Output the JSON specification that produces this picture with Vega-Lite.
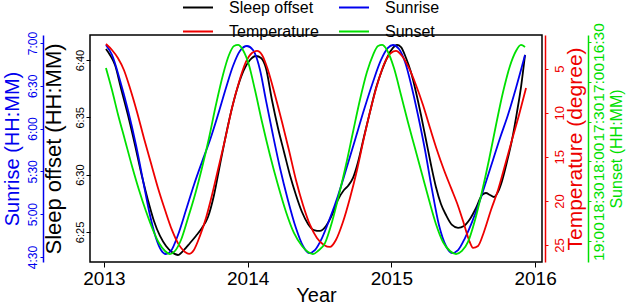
{
  "$schema": "https://vega.github.io/schema/vega-lite/v6.json",
  "autosize": {"type": "none"},
  "padding": {"left": 90, "top": 35, "right": 89, "bottom": 46},
  "width": 452,
  "height": 227,
  "background": "white",
  "config": {
    "font": "Liberation Sans",
    "view": {"stroke": "black", "strokeWidth": 1.5},
    "axis": {"grid": false, "labelFont": "Liberation Sans", "titleFont": "Liberation Sans", "titleFontWeight": "normal", "labelOverlap": false, "labelFlush": false, "tickSize": 4}
  },
  "datasets": {
    "sleep": [
      {"t":2013.014,"v":400.96},{"t":2013.042,"v":400.44},{"t":2013.077,"v":399.56},{"t":2013.118,"v":397.56},
      {"t":2013.167,"v":395.20},{"t":2013.216,"v":392.59},{"t":2013.264,"v":389.88},{"t":2013.306,"v":387.79},
      {"t":2013.348,"v":385.96},{"t":2013.390,"v":384.65},{"t":2013.432,"v":383.78},{"t":2013.473,"v":383.25},
      {"t":2013.515,"v":382.99},{"t":2013.557,"v":383.43},{"t":2013.599,"v":384.04},{"t":2013.640,"v":384.65},
      {"t":2013.682,"v":385.35},{"t":2013.724,"v":386.31},{"t":2013.766,"v":388.23},{"t":2013.807,"v":390.84},
      {"t":2013.849,"v":393.46},{"t":2013.891,"v":395.81},{"t":2013.933,"v":397.73},{"t":2013.974,"v":399.13},
      {"t":2014.016,"v":400.00},{"t":2014.058,"v":400.35},{"t":2014.093,"v":400.17},{"t":2014.127,"v":399.30},
      {"t":2014.169,"v":396.51},{"t":2014.211,"v":394.07},{"t":2014.253,"v":391.98},{"t":2014.294,"v":389.97},
      {"t":2014.336,"v":388.23},{"t":2014.378,"v":386.74},{"t":2014.420,"v":385.70},{"t":2014.461,"v":385.17},
      {"t":2014.503,"v":385.09},{"t":2014.545,"v":385.52},{"t":2014.587,"v":386.48},{"t":2014.628,"v":387.79},
      {"t":2014.670,"v":388.66},{"t":2014.698,"v":389.01},{"t":2014.733,"v":389.71},{"t":2014.768,"v":391.10},
      {"t":2014.809,"v":393.28},{"t":2014.851,"v":395.46},{"t":2014.893,"v":397.56},{"t":2014.935,"v":399.13},
      {"t":2014.976,"v":400.35},{"t":2015.011,"v":401.05},{"t":2015.039,"v":401.31},{"t":2015.067,"v":401.13},
      {"t":2015.102,"v":400.17},{"t":2015.136,"v":398.95},{"t":2015.171,"v":397.21},{"t":2015.206,"v":395.20},
      {"t":2015.241,"v":393.02},{"t":2015.276,"v":390.84},{"t":2015.310,"v":388.92},{"t":2015.345,"v":387.44},
      {"t":2015.380,"v":386.48},{"t":2015.422,"v":385.61},{"t":2015.464,"v":385.35},{"t":2015.505,"v":385.52},
      {"t":2015.547,"v":386.13},{"t":2015.589,"v":387.09},{"t":2015.631,"v":388.23},{"t":2015.658,"v":388.40},
      {"t":2015.686,"v":388.23},{"t":2015.714,"v":388.05},{"t":2015.742,"v":388.49},{"t":2015.770,"v":389.45},
      {"t":2015.804,"v":391.10},{"t":2015.839,"v":393.02},{"t":2015.874,"v":395.46},{"t":2015.902,"v":397.64},
      {"t":2015.930,"v":400.44}
    ],
    "sunrise": [
      {"t":2013.014,"v":418.6},{"t":2013.056,"v":411.6},{"t":2013.111,"v":394.1},{"t":2013.167,"v":373.0},
      {"t":2013.223,"v":348.5},{"t":2013.278,"v":320.5},{"t":2013.320,"v":299.4},{"t":2013.362,"v":283.3},
      {"t":2013.397,"v":274.9},{"t":2013.431,"v":272.1},{"t":2013.466,"v":274.2},{"t":2013.515,"v":285.4},
      {"t":2013.571,"v":302.9},{"t":2013.626,"v":320.5},{"t":2013.682,"v":336.6},{"t":2013.738,"v":352.0},
      {"t":2013.793,"v":369.5},{"t":2013.849,"v":388.5},{"t":2013.898,"v":403.9},{"t":2013.946,"v":414.4},
      {"t":2013.995,"v":417.9},{"t":2014.037,"v":415.1},{"t":2014.086,"v":401.1},{"t":2014.127,"v":380.0},
      {"t":2014.176,"v":355.5},{"t":2014.225,"v":332.4},{"t":2014.280,"v":310.0},{"t":2014.336,"v":290.3},
      {"t":2014.385,"v":277.7},{"t":2014.427,"v":272.8},{"t":2014.468,"v":274.9},{"t":2014.517,"v":283.3},
      {"t":2014.573,"v":297.3},{"t":2014.628,"v":312.8},{"t":2014.684,"v":331.0},{"t":2014.747,"v":352.0},
      {"t":2014.809,"v":373.0},{"t":2014.872,"v":392.7},{"t":2014.928,"v":408.1},{"t":2014.976,"v":416.5},
      {"t":2015.011,"v":418.6},{"t":2015.053,"v":415.8},{"t":2015.095,"v":406.7},{"t":2015.143,"v":388.5},
      {"t":2015.185,"v":369.5},{"t":2015.234,"v":345.0},{"t":2015.283,"v":317.0},{"t":2015.331,"v":292.4},
      {"t":2015.380,"v":277.7},{"t":2015.422,"v":272.8},{"t":2015.464,"v":274.9},{"t":2015.512,"v":283.3},
      {"t":2015.561,"v":294.5},{"t":2015.610,"v":307.8},{"t":2015.658,"v":322.6},{"t":2015.707,"v":338.0},
      {"t":2015.756,"v":353.4},{"t":2015.811,"v":369.5},{"t":2015.867,"v":388.5},{"t":2015.930,"v":411.6}
    ],
    "temperature": [
      {"t":2013.014,"v":2.20},{"t":2013.056,"v":2.88},{"t":2013.097,"v":3.79},{"t":2013.139,"v":5.15},
      {"t":2013.181,"v":7.19},{"t":2013.230,"v":9.91},{"t":2013.278,"v":12.86},{"t":2013.327,"v":15.70},
      {"t":2013.376,"v":18.53},{"t":2013.425,"v":21.03},{"t":2013.473,"v":23.29},{"t":2013.522,"v":24.99},
      {"t":2013.564,"v":25.79},{"t":2013.592,"v":26.01},{"t":2013.626,"v":25.56},{"t":2013.668,"v":23.97},
      {"t":2013.710,"v":21.93},{"t":2013.752,"v":19.32},{"t":2013.793,"v":16.49},{"t":2013.842,"v":13.09},
      {"t":2013.891,"v":9.46},{"t":2013.940,"v":6.51},{"t":2013.988,"v":4.24},{"t":2014.030,"v":3.22},
      {"t":2014.065,"v":2.99},{"t":2014.100,"v":3.45},{"t":2014.141,"v":5.15},{"t":2014.190,"v":7.98},
      {"t":2014.239,"v":11.05},{"t":2014.287,"v":14.22},{"t":2014.336,"v":17.62},{"t":2014.385,"v":20.46},
      {"t":2014.434,"v":22.73},{"t":2014.482,"v":24.20},{"t":2014.531,"v":24.99},{"t":2014.573,"v":25.22},
      {"t":2014.614,"v":24.43},{"t":2014.663,"v":22.39},{"t":2014.712,"v":19.66},{"t":2014.761,"v":16.49},
      {"t":2014.809,"v":12.86},{"t":2014.858,"v":9.46},{"t":2014.907,"v":6.51},{"t":2014.956,"v":4.24},
      {"t":2014.997,"v":3.22},{"t":2015.032,"v":2.99},{"t":2015.074,"v":3.56},{"t":2015.122,"v":4.92},
      {"t":2015.171,"v":6.85},{"t":2015.220,"v":9.12},{"t":2015.269,"v":11.73},{"t":2015.317,"v":14.22},
      {"t":2015.366,"v":16.49},{"t":2015.415,"v":18.53},{"t":2015.464,"v":20.57},{"t":2015.505,"v":22.61},
      {"t":2015.540,"v":24.43},{"t":2015.568,"v":25.33},{"t":2015.603,"v":25.11},{"t":2015.644,"v":23.52},
      {"t":2015.693,"v":21.03},{"t":2015.742,"v":18.76},{"t":2015.791,"v":15.92},{"t":2015.839,"v":13.09},
      {"t":2015.888,"v":10.25},{"t":2015.937,"v":7.19}
    ],
    "sunset": [
      {"t":2013.014,"v":1009.6},{"t":2013.056,"v":1026.2},{"t":2013.097,"v":1044.2},{"t":2013.146,"v":1063.8},
      {"t":2013.195,"v":1083.4},{"t":2013.244,"v":1101.5},{"t":2013.292,"v":1117.4},{"t":2013.341,"v":1131.7},
      {"t":2013.383,"v":1141.5},{"t":2013.425,"v":1147.5},{"t":2013.459,"v":1149.8},{"t":2013.494,"v":1147.5},
      {"t":2013.536,"v":1139.2},{"t":2013.585,"v":1122.6},{"t":2013.633,"v":1105.3},{"t":2013.682,"v":1084.9},
      {"t":2013.731,"v":1062.3},{"t":2013.779,"v":1037.5},{"t":2013.828,"v":1014.8},{"t":2013.870,"v":999.8},
      {"t":2013.905,"v":993.0},{"t":2013.933,"v":992.2},{"t":2013.967,"v":996.0},{"t":2014.009,"v":1007.3},
      {"t":2014.051,"v":1026.2},{"t":2014.100,"v":1050.3},{"t":2014.155,"v":1075.1},{"t":2014.211,"v":1097.8},
      {"t":2014.267,"v":1118.1},{"t":2014.322,"v":1133.9},{"t":2014.378,"v":1143.7},{"t":2014.420,"v":1148.3},
      {"t":2014.454,"v":1149.8},{"t":2014.489,"v":1147.5},{"t":2014.538,"v":1141.5},{"t":2014.587,"v":1125.6},
      {"t":2014.635,"v":1105.3},{"t":2014.684,"v":1082.7},{"t":2014.733,"v":1057.8},{"t":2014.781,"v":1033.7},
      {"t":2014.830,"v":1012.6},{"t":2014.872,"v":999.8},{"t":2014.907,"v":993.0},{"t":2014.935,"v":992.2},
      {"t":2014.969,"v":996.0},{"t":2015.018,"v":1009.6},{"t":2015.067,"v":1029.9},{"t":2015.115,"v":1050.3},
      {"t":2015.164,"v":1069.9},{"t":2015.213,"v":1089.5},{"t":2015.262,"v":1109.1},{"t":2015.310,"v":1127.1},
      {"t":2015.359,"v":1140.7},{"t":2015.408,"v":1147.5},{"t":2015.450,"v":1149.8},{"t":2015.491,"v":1147.5},
      {"t":2015.533,"v":1140.7},{"t":2015.582,"v":1124.1},{"t":2015.630,"v":1103.0},{"t":2015.679,"v":1078.9},
      {"t":2015.728,"v":1052.5},{"t":2015.777,"v":1027.7},{"t":2015.825,"v":1008.1},{"t":2015.867,"v":996.8},
      {"t":2015.902,"v":992.2},{"t":2015.930,"v":993.7}
    ]
  },
  "layer": [
    {
      "data": {"name": "sleep"},
      "mark": {"type": "line", "interpolate": "monotone", "strokeWidth": 1.8},
      "encoding": {
        "x": {"field": "t", "type": "quantitative", "scale": {"domain": [2012.903, 2016.048], "nice": false, "zero": false},
              "axis": {"values": [2013, 2014, 2015, 2016], "format": "d", "title": "Year", "domain": false, "tickColor": "black", "tickSize": 5, "labelColor": "black", "titleColor": "black", "labelFontSize": 19, "titleFontSize": 20, "labelPadding": 2, "titlePadding": -3}},
        "y": {"field": "v", "type": "quantitative", "scale": {"domain": [382.38, 402.18], "nice": false, "zero": false},
              "axis": {"orient": "left", "values": [385, 390, 395, 400], "labelExpr": "floor(datum.value/60) + ':' + (datum.value % 60 < 10 ? '0' : '') + (datum.value % 60)", "labelAngle": 270, "labelFontSize": 11, "labelColor": "black", "tickColor": "black", "domain": false, "title": "Sleep offset (HH:MM)", "titleFontSize": 22, "titleColor": "black", "labelPadding": 1, "titlePadding": 9}},
        "color": {"datum": "Sleep offset", "type": "nominal",
                  "scale": {"domain": ["Sleep offset", "Temperature", "Sunrise", "Sunset"], "range": ["#000000", "#ee0000", "#0000ee", "#00e000"]},
                  "legend": {"orient": "none", "legendX": 92, "legendY": -43.5, "columns": 2, "title": null, "symbolType": "stroke", "symbolSize": 900, "symbolStrokeWidth": 2, "labelFontSize": 16, "labelFont": "Liberation Sans", "labelColor": "black", "labelOffset": 15, "columnPadding": 16, "rowPadding": -16, "padding": 0}}
      }
    },
    {
      "data": {"name": "sunrise"},
      "mark": {"type": "line", "interpolate": "monotone", "strokeWidth": 1.8},
      "encoding": {
        "x": {"field": "t", "type": "quantitative", "scale": {"domain": [2012.903, 2016.048], "nice": false, "zero": false}},
        "y": {"field": "v", "type": "quantitative", "scale": {"domain": [266.5, 425.6], "nice": false, "zero": false},
              "axis": {"orient": "left", "offset": 47, "values": [270, 300, 330, 360, 390, 420], "labelExpr": "floor(datum.value/60) + ':' + (datum.value % 60 < 10 ? '0' : '') + (datum.value % 60)", "labelAngle": 270, "labelFontSize": 12, "labelColor": "#0000ee", "tickColor": "#0000ee", "tickSize": 3, "domain": true, "domainColor": "#0000ee", "domainWidth": 1.5, "title": "Sunrise (HH:MM)", "titleFontSize": 20, "titleColor": "#0000ee", "labelPadding": 1, "titlePadding": 4}},
        "color": {"datum": "Sunrise", "type": "nominal"}
      }
    },
    {
      "data": {"name": "temperature"},
      "mark": {"type": "line", "interpolate": "monotone", "strokeWidth": 1.8},
      "encoding": {
        "x": {"field": "t", "type": "quantitative", "scale": {"domain": [2012.903, 2016.048], "nice": false, "zero": false}},
        "y": {"field": "v", "type": "quantitative", "scale": {"domain": [1.18, 26.93], "reverse": true, "nice": false, "zero": false},
              "axis": {"orient": "right", "offset": 3, "values": [5, 10, 15, 20, 25], "labelAngle": 270, "labelFontSize": 13, "labelColor": "#ee0000", "tickColor": "#ee0000", "tickSize": 3, "domain": true, "domainColor": "#ee0000", "domainWidth": 1.5, "title": "Temperature (degree)", "titleAngle": 270, "titleFontSize": 21, "titleColor": "#ee0000", "labelPadding": 5, "titlePadding": 19}},
        "color": {"datum": "Temperature", "type": "nominal"}
      }
    },
    {
      "data": {"name": "sunset"},
      "mark": {"type": "line", "interpolate": "monotone", "strokeWidth": 1.8},
      "encoding": {
        "x": {"field": "t", "type": "quantitative", "scale": {"domain": [2012.903, 2016.048], "nice": false, "zero": false}},
        "y": {"field": "v", "type": "quantitative", "scale": {"domain": [984.7, 1155.8], "reverse": true, "nice": false, "zero": false},
              "axis": {"orient": "right", "offset": 46, "values": [990, 1020, 1050, 1080, 1110, 1140], "labelExpr": "floor(datum.value/60) + ':' + (datum.value % 60 < 10 ? '0' : '') + (datum.value % 60)", "labelAngle": 270, "labelFontSize": 15.5, "labelColor": "#00e000", "tickColor": "#00e000", "tickSize": 3, "domain": true, "domainColor": "#00e000", "domainWidth": 1.5, "title": "Sunset (HH:MM)", "titleAngle": 270, "titleFontSize": 16, "titleColor": "#00e000", "labelPadding": 0, "titlePadding": 18}},
        "color": {"datum": "Sunset", "type": "nominal"}
      }
    }
  ],
  "resolve": {"scale": {"y": "independent"}, "axis": {"y": "independent"}}
}
